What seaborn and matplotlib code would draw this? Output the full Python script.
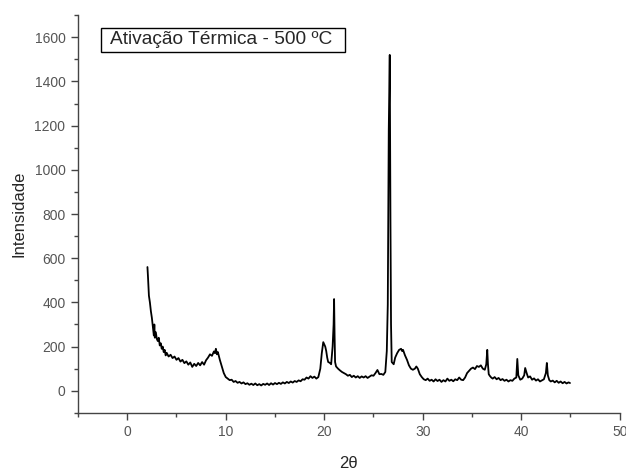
import pandas as pd
import seaborn as sns
import matplotlib.pyplot as plt
from matplotlib.patches import Rectangle
from matplotlib.ticker import MultipleLocator

# XRD pattern (10 points per line)
two_theta = [
    2.05, 2.10, 2.15, 2.20, 2.30, 2.40, 2.50, 2.60, 2.70, 2.75,
    2.80, 2.90, 3.00, 3.10, 3.20, 3.30, 3.40, 3.50, 3.60, 3.70,
    3.80, 3.90, 4.00, 4.20, 4.40, 4.60, 4.80, 5.00, 5.20, 5.40,
    5.60, 5.80, 6.00, 6.20, 6.40, 6.60, 6.80, 7.00, 7.20, 7.40,
    7.60, 7.80, 8.00, 8.20, 8.40, 8.60, 8.80, 8.90, 9.00, 9.10,
    9.20, 9.40, 9.60, 9.80, 10.00, 10.20, 10.40, 10.60, 10.80, 11.00,
    11.20, 11.40, 11.60, 11.80, 12.00, 12.20, 12.40, 12.60, 12.80, 13.00,
    13.20, 13.40, 13.60, 13.80, 14.00, 14.20, 14.40, 14.60, 14.80, 15.00,
    15.20, 15.40, 15.60, 15.80, 16.00, 16.20, 16.40, 16.60, 16.80, 17.00,
    17.20, 17.40, 17.60, 17.80, 18.00, 18.20, 18.40, 18.60, 18.80, 19.00,
    19.20, 19.40, 19.60, 19.75, 19.90, 20.00, 20.10, 20.20, 20.30, 20.40,
    20.50, 20.60, 20.70, 20.85, 20.95, 21.00, 21.05, 21.10, 21.20, 21.40,
    21.60, 21.80, 22.00, 22.20, 22.40, 22.60, 22.80, 23.00, 23.20, 23.40,
    23.60, 23.80, 24.00, 24.20, 24.40, 24.60, 24.80, 25.00, 25.20, 25.40,
    25.60, 25.80, 26.00, 26.20, 26.35, 26.45, 26.55, 26.65, 26.72, 26.78,
    26.85, 26.95, 27.05, 27.20, 27.40, 27.60, 27.80, 27.90, 28.00, 28.20,
    28.40, 28.60, 28.80, 29.00, 29.20, 29.35, 29.50, 29.70, 29.90, 30.10,
    30.30, 30.50, 30.70, 30.90, 31.10, 31.30, 31.50, 31.70, 31.90, 32.10,
    32.30, 32.50, 32.70, 32.90, 33.10, 33.30, 33.50, 33.70, 33.90, 34.10,
    34.30, 34.50, 34.70, 34.90, 35.10, 35.30, 35.50, 35.70, 35.90, 36.10,
    36.30, 36.45, 36.55, 36.62, 36.70, 36.80, 36.95, 37.10, 37.30, 37.50,
    37.70, 37.90, 38.10, 38.30, 38.50, 38.70, 38.90, 39.10, 39.30, 39.50,
    39.60, 39.70, 39.90, 40.10, 40.30, 40.40, 40.55, 40.70, 40.90, 41.10,
    41.30, 41.50, 41.70, 41.90, 42.10, 42.30, 42.50, 42.60, 42.70, 42.85,
    43.00, 43.20, 43.40, 43.60, 43.80, 44.00, 44.20, 44.40, 44.60, 44.80,
    44.95,
]
intensity = [
    560, 520, 470, 430, 400, 360, 330, 290, 250, 300,
    240, 265, 235, 225, 240, 205, 215, 190, 200, 175,
    185, 160, 172, 155, 163, 148, 155, 140, 148, 132,
    140, 125, 133, 118, 128, 108, 122, 112, 126, 115,
    130, 118, 138, 150, 165, 158, 178, 170, 190, 165,
    175, 140, 110, 80, 62, 55, 48, 50, 40, 44,
    36, 40, 33, 38, 30, 34, 27, 32, 26, 33,
    25, 30, 24, 31, 27, 33, 26, 34, 28, 35,
    30, 36, 31, 38, 33, 40, 35, 42, 37, 44,
    40, 47, 43, 52, 50, 60, 55, 66, 58, 64,
    55, 62, 100, 170, 220, 210, 200, 180, 150, 130,
    128, 125, 120, 200, 300, 415, 250, 130, 110, 100,
    92, 85, 80, 75, 68, 72, 62, 68, 60, 66,
    58, 65, 60, 66, 58, 64, 70, 68, 80, 94,
    75, 76, 72, 85, 180, 390, 1180, 1520, 780, 300,
    130, 125, 120, 150, 170, 185, 190, 180, 185, 160,
    140, 115, 100, 95, 100, 110, 100, 75, 62, 52,
    48, 55, 45, 50, 42, 52, 44, 50, 40, 48,
    42, 55, 45, 50, 43, 52, 48, 60, 50, 48,
    60, 80, 90, 100, 105, 98, 112, 108, 115, 100,
    95, 120, 185, 120, 75, 68, 60, 55, 62, 52,
    58, 48, 53, 45, 50, 42, 48, 45, 55, 60,
    144, 70, 50, 55, 70, 103, 80, 60, 65, 50,
    56, 46, 52, 42, 47, 52, 80, 126, 70, 48,
    42, 46, 38, 45, 36, 42, 34, 40, 33, 38,
    35,
]

df = pd.DataFrame({'2theta': two_theta, 'Intensidade': intensity})

sns.set_style('white')
plt.rcParams['font.family'] = ['Liberation Sans', 'DejaVu Sans']

fig = plt.figure(figsize=(6.26, 4.74), dpi=100)
ax = fig.add_axes([0.1246, 0.129, 0.8654, 0.839])

sns.lineplot(data=df, x='2theta', y='Intensidade', color='black', linewidth=1.3, ax=ax)

ax.set_xlim(-5, 50)
ax.set_ylim(-100, 1700)
ax.xaxis.set_major_locator(MultipleLocator(10))
ax.xaxis.set_minor_locator(MultipleLocator(5))
ax.yaxis.set_major_locator(MultipleLocator(200))
ax.yaxis.set_minor_locator(MultipleLocator(100))
ax.tick_params(which='major', direction='out', length=5, width=1, color='#444444',
               labelsize=10, labelcolor='#555555', bottom=True, left=True, pad=4)
ax.tick_params(which='minor', direction='out', length=3, width=1, color='#444444',
               bottom=True, left=True)

for side in ['top', 'right']:
    ax.spines[side].set_visible(False)
for side in ['left', 'bottom']:
    ax.spines[side].set_color('#444444')
    ax.spines[side].set_linewidth(1)

ax.set_xlabel('2θ', fontsize=12, labelpad=12)
ax.set_ylabel('Intensidade', fontsize=12, labelpad=6)

# label box in the top-left corner
fig.patches.append(Rectangle((101 / 626, 1 - 52 / 474), 244 / 626, 24 / 474,
                             transform=fig.transFigure, facecolor='white',
                             edgecolor='black', linewidth=1))
fig.text(110 / 626, 1 - 40 / 474, 'Ativação Térmica - 500 ºC', fontsize=13.8,
         va='center', ha='left')

fig.savefig('out.png', dpi=100)
